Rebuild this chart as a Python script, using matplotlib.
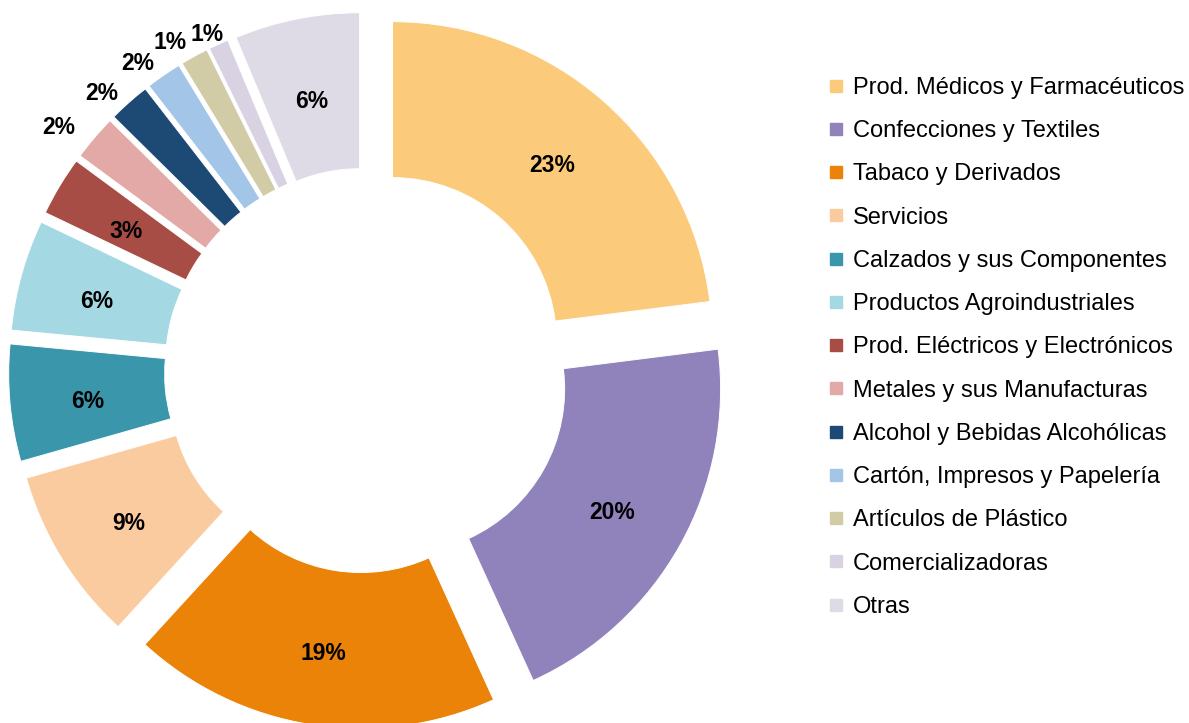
import math
import matplotlib.pyplot as plt
from matplotlib.lines import Line2D

plt.rcParams["font.family"] = ["Liberation Sans", "DejaVu Sans"]

categories = [
    "Prod. Médicos y Farmacéuticos",
    "Confecciones y Textiles",
    "Tabaco y Derivados",
    "Servicios",
    "Calzados y sus Componentes",
    "Productos Agroindustriales",
    "Prod. Eléctricos y Electrónicos",
    "Metales y sus Manufacturas",
    "Alcohol y Bebidas Alcohólicas",
    "Cartón, Impresos y Papelería",
    "Artículos de Plástico",
    "Comercializadoras",
    "Otras",
]
# share of total, % (labels show them rounded)
shares = [23.0, 20.2, 18.6, 8.8, 5.9, 5.6, 3.0, 2.3, 2.1, 1.8, 1.4, 1.0, 6.3]
colors = [
    "#FBCB7B", "#9083BB", "#EB8308", "#FACB9F", "#3A96AA", "#A4D8E3",
    "#A84D45", "#E3A9A7", "#1D4A74", "#A2C5E8", "#D1CBA6", "#D8D2E2",
    "#DEDBE6",
]

fig = plt.figure(figsize=(11.89, 7.23), dpi=100)
ax = fig.add_axes([0, 0, 1, 1])

# axes in pixel units, so radius / explode are in px
R, ring = 320, 156
wedges, _ = ax.pie(
    shares,
    colors=colors,
    center=(367, 352.5),
    radius=R,
    startangle=90,
    counterclock=False,
    explode=[38.5] * len(shares),
    wedgeprops=dict(width=ring, edgecolor="white", linewidth=0.7),
    frame=True,
)
ax.set_xlim(0, 1189)
ax.set_ylim(0, 723)
ax.set_aspect("equal")
ax.axis("off")

# small slices get their label outside; a couple need a nudge
outside_nudge = {
    "Metales y sus Manufacturas": (2.2, 356),
    "Comercializadoras": (0.9, 336),
}
for w, v, name in zip(wedges, shares, categories):
    mid = math.radians((w.theta1 + w.theta2) / 2)
    cx, cy = w.center
    if v >= 2.5:
        d, dy = R - ring / 2, -4
    else:
        da, d = outside_nudge.get(name, (2.2, 347))
        mid += math.radians(da)
        dy = -2
    ax.annotate(f"{round(v)}%", (cx + d * math.cos(mid), cy + d * math.sin(mid)),
                xytext=(0, dy), textcoords="offset points",
                ha="center", va="center", fontsize=16.5, fontweight="bold")

handles = [
    Line2D([], [], marker="s", linestyle="", markersize=9, color=c, label=l)
    for c, l in zip(colors, categories)
]
ax.legend(
    handles=handles,
    loc="upper left",
    bbox_to_anchor=(815 / 1189, 1 - 65 / 723),
    bbox_transform=fig.transFigure,
    frameon=False,
    borderpad=0,
    fontsize=17,
    labelspacing=0.90,
    handlelength=0.8,
    handletextpad=0.3,
)

fig.savefig("out.png", dpi=100)
